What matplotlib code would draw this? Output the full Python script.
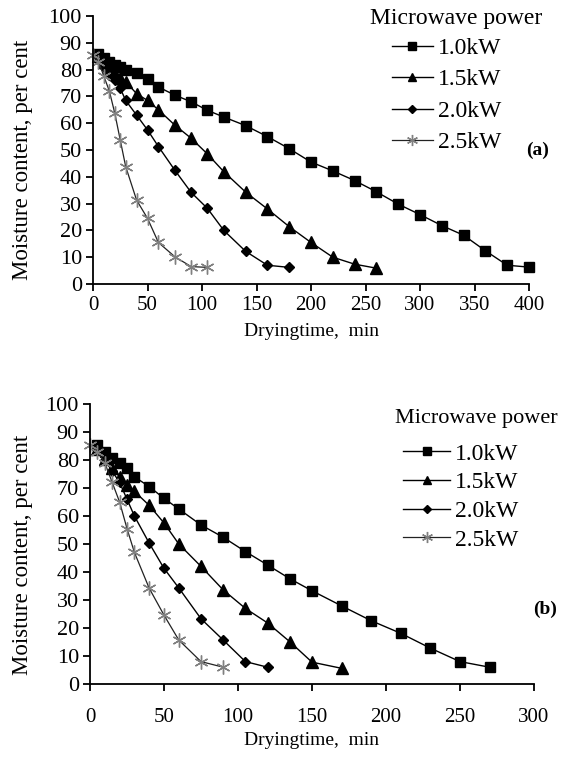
import matplotlib
matplotlib.use("Agg")
import matplotlib.pyplot as plt

plt.rcParams["font.family"] = ["Liberation Serif", "DejaVu Serif"]

# panel (a)
a_t10 = [5, 10, 15, 20, 25, 30, 40, 50, 60, 75, 90, 105, 120, 140, 160, 180, 200,
         220, 240, 260, 280, 300, 320, 340, 360, 380, 400]
a_m10 = [86, 84.5, 83, 81.7, 81, 80, 78.6, 76.6, 73.5, 70.5, 68, 64.8, 62.3, 59.1, 55,
         50.5, 45.5, 42.2, 38.6, 34.4, 29.8, 25.9, 21.8, 18.2, 12.4, 7, 6.3]
a_t15 = [5, 10, 15, 20, 25, 30, 40, 50, 60, 75, 90, 105, 120, 140, 160, 180, 200, 220, 240, 260]
a_m15 = [85, 83, 80.5, 78.5, 77, 75.5, 71, 68.5, 65, 59.3, 54.4, 48.5, 41.9, 34.3, 28,
         21.4, 15.5, 10, 7.4, 5.9]
a_t20 = [5, 10, 15, 20, 25, 30, 40, 50, 60, 75, 90, 105, 120, 140, 160, 180]
a_m20 = [84, 81, 78, 76, 73, 68.5, 63, 57.5, 51.3, 42.5, 34.2, 28.2, 20, 12.2, 7, 6.2]
a_t25 = [0, 5, 10, 15, 20, 25, 30, 40, 50, 60, 75, 90, 105]
a_m25 = [85.4, 83, 77.5, 72, 63.7, 53.7, 43.8, 31.3, 24.5, 15.5, 10.2, 6.5, 6.2]

# panel (b)
b_t10 = [5, 10, 15, 20, 25, 30, 40, 50, 60, 75, 90, 105, 120, 135, 150, 170, 190, 210,
         230, 250, 270]
b_m10 = [85.5, 83, 80.6, 78.8, 77, 74, 70.5, 66.3, 62.5, 56.8, 52.4, 47.3, 42.5, 37.6,
         33.3, 27.9, 22.6, 18.1, 12.8, 8, 6]
b_t15 = [5, 10, 15, 20, 25, 30, 40, 50, 60, 75, 90, 105, 120, 135, 150, 170]
b_m15 = [84, 80.5, 77, 74, 71, 68.8, 63.8, 57.5, 50, 42, 33.6, 27, 21.8, 15.1, 7.8, 5.6]
b_t20 = [5, 10, 15, 20, 25, 30, 40, 50, 60, 75, 90, 105, 120]
b_m20 = [84, 80, 76, 72, 66, 60, 50.3, 41.3, 34.3, 23.3, 15.7, 8, 6]
b_t25 = [0, 5, 10, 15, 20, 25, 30, 40, 50, 60, 75, 90]
b_m25 = [85.4, 83, 79, 72, 65, 55.5, 47, 34.2, 24.6, 15.7, 8, 6]

labels = ["1.0kW", "1.5kW", "2.0kW", "2.5kW"]
yticks = list(range(0, 101, 10))


def draw_panel(ax, series, xmax, tag, tag_xy, title_xy, title_size, leg_anchor,
               handle_len, spacing, xpad):
    styles = [
        dict(marker="s", color="black", mfc="black", mec="black", ms=7, lw=1.0),
        dict(marker="^", color="black", mfc="black", mec="black", ms=8, lw=1.0),
        dict(marker="D", color="black", mfc="black", mec="black", ms=5.5, lw=1.0),
        dict(marker=(6, 2, 0), color="#222222", mfc="#808080", mec="#808080", ms=10,
             mew=1.0, lw=0.9),
    ]
    for (t, m), lab, st in zip(series, labels, styles):
        ax.plot(t, m, label=lab, clip_on=False, **st)
    ax.set_xlim(0, xmax)
    ax.set_ylim(0, 100)
    ax.set_xticks(range(0, xmax + 1, 50))
    ax.set_yticks(yticks)
    for s in ["top", "right"]:
        ax.spines[s].set_visible(False)
    ax.spines["left"].set_linewidth(1.3)
    ax.spines["bottom"].set_linewidth(1.3)
    ax.tick_params(axis="y", direction="out", length=5, width=1.3, labelsize=16, pad=3)
    ax.tick_params(axis="x", direction="out", length=5, width=1.3, labelsize=15, pad=xpad)
    ax.set_ylabel("Moisture content, per cent", fontsize=16.5)
    ax.set_xlabel("Dryingtime,  min", fontsize=14)
    ax.legend(loc="upper left", bbox_to_anchor=leg_anchor, frameon=False, fontsize=17,
              handlelength=handle_len, handletextpad=0.2, labelspacing=spacing,
              borderaxespad=0, borderpad=0, markerscale=0.8)
    ax.text(title_xy[0], title_xy[1], "Microwave power", transform=ax.transAxes,
            fontsize=title_size, ha="left", va="center")
    ax.text(tag_xy[0], tag_xy[1], tag, transform=ax.transAxes, fontsize=14,
            fontweight="bold", ha="left", va="center")


fig = plt.figure(figsize=(5.69, 7.63), dpi=100)

ax1 = fig.add_axes([93 / 569, 1 - 284 / 763, 436 / 569, 268 / 763])
draw_panel(ax1, [(a_t10, a_m10), (a_t15, a_m15), (a_t20, a_m20), (a_t25, a_m25)],
           400, "(a)", (0.993, 0.50), (0.635, 0.992), 17, (0.685, 0.92), 1.75, 0.42, 4)
ax1.yaxis.set_label_coords(-0.138, 0.465)
ax1.xaxis.set_label_coords(0.5, -0.146)

ax2 = fig.add_axes([90 / 569, 1 - 684 / 763, 444 / 569, 280 / 763])
draw_panel(ax2, [(b_t10, b_m10), (b_t15, b_m15), (b_t20, b_m20), (b_t25, b_m25)],
           300, "(b)", (0.997, 0.265), (0.687, 0.95), 16, (0.705, 0.86), 2.0, 0.3, 12)
ax2.yaxis.set_label_coords(-0.128, 0.46)
ax2.xaxis.set_label_coords(0.5, -0.17)

fig.savefig("out.png", dpi=100)
